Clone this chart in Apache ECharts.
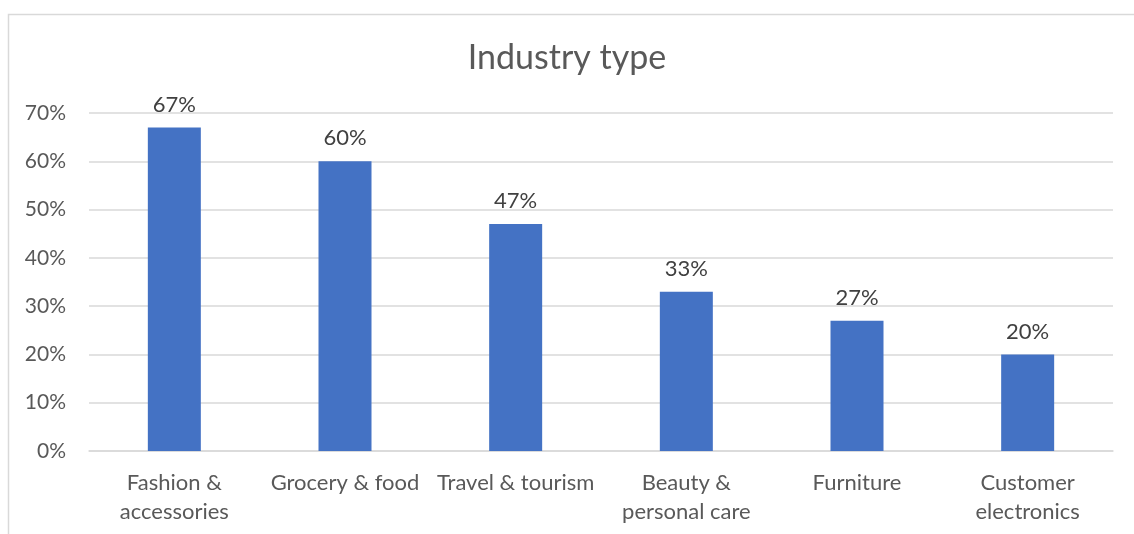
<!DOCTYPE html>
<html>
<head>
<meta charset="utf-8">
<script src="https://cdn.jsdelivr.net/npm/echarts@6/dist/echarts.min.js"></script>
<style>
  html, body { margin: 0; padding: 0; background: #ffffff; }
  #chart { width: 1134px; height: 534px; }
</style>
</head>
<body>
<div id="chart"></div>
<script>
// Share of respondents by industry type
const categories = [
  'Fashion &\naccessories',
  'Grocery & food',
  'Travel & tourism',
  'Beauty &\npersonal care',
  'Furniture',
  'Customer\nelectronics'
];
const shares = [67, 60, 47, 33, 27, 20];
const yTicks = { min: 0, max: 70, interval: 10 };

const FONT = 'Lato, "Noto Sans", sans-serif';
const chart = echarts.init(document.getElementById('chart'), null, { renderer: 'canvas' });

chart.setOption({
  animation: false,
  backgroundColor: '#ffffff',
  title: {
    text: 'Industry type',
    left: 'center',
    top: 36,
    textStyle: { fontFamily: FONT, fontSize: 34, fontWeight: 'normal', color: '#595959' }
  },
  graphic: [{
    type: 'rect',
    shape: { x: 8.5, y: 14.5, width: 1140, height: 540 },
    style: { fill: 'none', stroke: '#d9d9d9', lineWidth: 1.5 },
    silent: true
  }],
  grid: { left: 89, right: 21, top: 113, bottom: 83, containLabel: false },
  xAxis: {
    type: 'category',
    data: categories,
    axisTick: { show: false },
    axisLine: { show: true, lineStyle: { color: '#d9d9d9', width: 1.5 } },
    axisLabel: {
      interval: 0,
      margin: 17,
      fontFamily: FONT,
      fontSize: 22,
      lineHeight: 29,
      color: '#595959'
    }
  },
  yAxis: {
    type: 'value',
    min: yTicks.min,
    max: yTicks.max,
    interval: yTicks.interval,
    axisLine: { show: false },
    axisTick: { show: false },
    splitLine: { lineStyle: { color: '#d9d9d9', width: 1.5 } },
    axisLabel: {
      formatter: '{value}%',
      margin: 23,
      fontFamily: FONT,
      fontSize: 21,
      color: '#595959'
    }
  },
  series: [{
    type: 'bar',
    data: shares,
    barWidth: 53,
    itemStyle: { color: '#4472c4' },
    label: {
      show: true,
      position: 'top',
      distance: 12,
      formatter: '{c}%',
      fontFamily: FONT,
      fontSize: 22,
      color: '#404040'
    }
  }]
});
</script>
</body>
</html>
